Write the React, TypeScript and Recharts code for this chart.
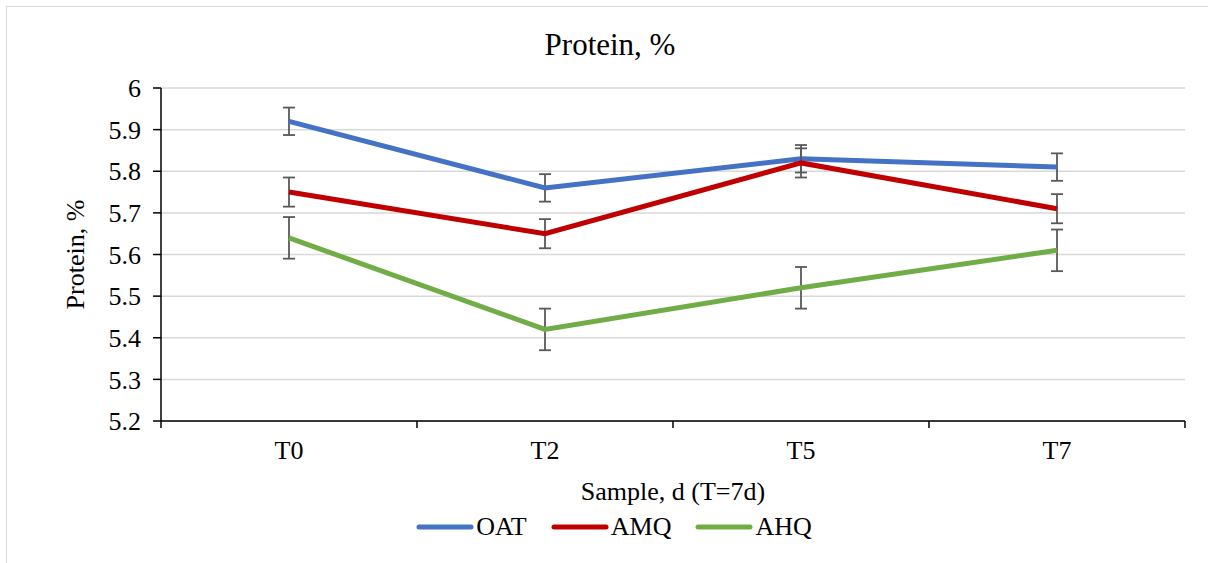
import { LineChart, Line, XAxis, YAxis, CartesianGrid, ErrorBar } from "recharts";

const samples = ["T0", "T2", "T5", "T7"];
const oat = [5.92, 5.76, 5.83, 5.81];
const amq = [5.75, 5.65, 5.82, 5.71];
const ahq = [5.64, 5.42, 5.52, 5.61];
const oatErr = [0.033, 0.033, 0.033, 0.033];
const amqErr = [0.035, 0.035, 0.035, 0.035];
const ahqErr = [0.05, 0.05, 0.05, 0.05];
const yTicks = [5.2, 5.3, 5.4, 5.5, 5.6, 5.7, 5.8, 5.9, 6];

const W = 1208;
const H = 563;
const X_AXIS_H = 30;
const M = { top: 88, right: 23, bottom: 142 - X_AXIS_H, left: 61 };
const Y_AXIS_W = 100;
const FONT = "Liberation Serif, Times New Roman, serif";

const series = [
  { key: "OAT", err: "OATerr", color: "#4472C4" },
  { key: "AMQ", err: "AMQerr", color: "#C00000" },
  { key: "AHQ", err: "AHQerr", color: "#70AD47" },
];

const data = samples.map((s, i) => ({
  sample: s,
  OAT: oat[i],
  AMQ: amq[i],
  AHQ: ahq[i],
  OATerr: oatErr[i],
  AMQerr: amqErr[i],
  AHQerr: ahqErr[i],
}));

const halfBand = (W - M.left - Y_AXIS_W - M.right) / samples.length / 2;

function XTick(props: any) {
  const { x, y, payload, index } = props;
  return (
    <g>
      <line x1={x - halfBand} y1={y} x2={x - halfBand} y2={y + 7} stroke="#000" strokeWidth={1.5} />
      {index === samples.length - 1 && (
        <line x1={x + halfBand} y1={y} x2={x + halfBand} y2={y + 7} stroke="#000" strokeWidth={1.5} />
      )}
      <text x={x} y={y + 38} textAnchor="middle" fontFamily={FONT} fontSize={26} fill="#000">
        {payload.value}
      </text>
    </g>
  );
}

export default function App() {
  return (
    <div style={{ position: "absolute", left: 0, top: 0, width: W, height: H, overflow: "hidden", background: "#fff" }}>
      <div
        style={{
          position: "absolute",
          left: 6,
          top: 6,
          width: W,
          height: H,
          border: "1.5px solid #d9d9d9",
        }}
      />
      <div
        style={{
          position: "absolute",
          left: 0,
          width: 1220,
          top: 27,
          textAlign: "center",
          fontFamily: FONT,
          fontSize: 31,
          color: "#000",
        }}
      >
        Protein, %
      </div>
      <div style={{ position: "absolute", left: 0, top: 0 }}>
        <LineChart width={W} height={H} data={data} margin={M}>
          <CartesianGrid vertical={false} stroke="#d9d9d9" strokeWidth={1.5} />
          <XAxis
            dataKey="sample"
            height={X_AXIS_H}
            tickLine={false}
            tickSize={0}
            tickMargin={0}
            padding={{ left: halfBand, right: halfBand }}
            axisLine={{ stroke: "#000", strokeWidth: 1.5 }}
            tick={<XTick />}
            interval={0}
            label={{
              content: ({ viewBox }: any) => (
                <text
                  x={viewBox.x + viewBox.width / 2}
                  y={viewBox.y + 79}
                  textAnchor="middle"
                  fontFamily={FONT}
                  fontSize={26}
                  fill="#000"
                >
                  Sample, d (T=7d)
                </text>
              ),
            }}
          />
          <YAxis
            width={Y_AXIS_W}
            domain={[5.2, 6]}
            ticks={yTicks}
            interval={0}
            tickSize={8}
            tickMargin={12}
            tickLine={{ stroke: "#000", strokeWidth: 1.5 }}
            axisLine={{ stroke: "#000", strokeWidth: 1.5 }}
            tick={{ fontFamily: FONT, fontSize: 26, fill: "#000" }}
            tickFormatter={(v: number) => String(Number(v.toFixed(1)))}
            label={{
              content: ({ viewBox }: any) => {
                const cx = viewBox.x + 14;
                const cy = viewBox.y + viewBox.height / 2;
                return (
                  <text
                    x={cx}
                    y={cy}
                    transform={`rotate(-90, ${cx}, ${cy})`}
                    textAnchor="middle"
                    dominantBaseline="central"
                    fontFamily={FONT}
                    fontSize={26}
                    fill="#000"
                  >
                    Protein, %
                  </text>
                );
              },
            }}
          />
          {series.map((s) => (
            <Line
              key={s.key}
              dataKey={s.key}
              stroke={s.color}
              strokeWidth={5}
              dot={false}
              activeDot={false}
              isAnimationActive={false}
            >
              <ErrorBar dataKey={s.err} width={6} stroke="#595959" strokeWidth={1.8} direction="y" isAnimationActive={false} />
            </Line>
          ))}
        </LineChart>
      </div>
      <div
        style={{
          position: "absolute",
          left: 10,
          top: 512,
          width: W,
          display: "flex",
          justifyContent: "center",
          gap: 24,
          fontFamily: FONT,
          fontSize: 26,
          color: "#000",
        }}
      >
        {series.map((s) => (
          <div key={s.key} style={{ display: "flex", alignItems: "center" }}>
            <svg width={58} height={10}>
              <line x1={3} y1={5} x2={55} y2={5} stroke={s.color} strokeWidth={5} strokeLinecap="round" />
            </svg>
            <span style={{ marginLeft: 2 }}>{s.key}</span>
          </div>
        ))}
      </div>
    </div>
  );
}
